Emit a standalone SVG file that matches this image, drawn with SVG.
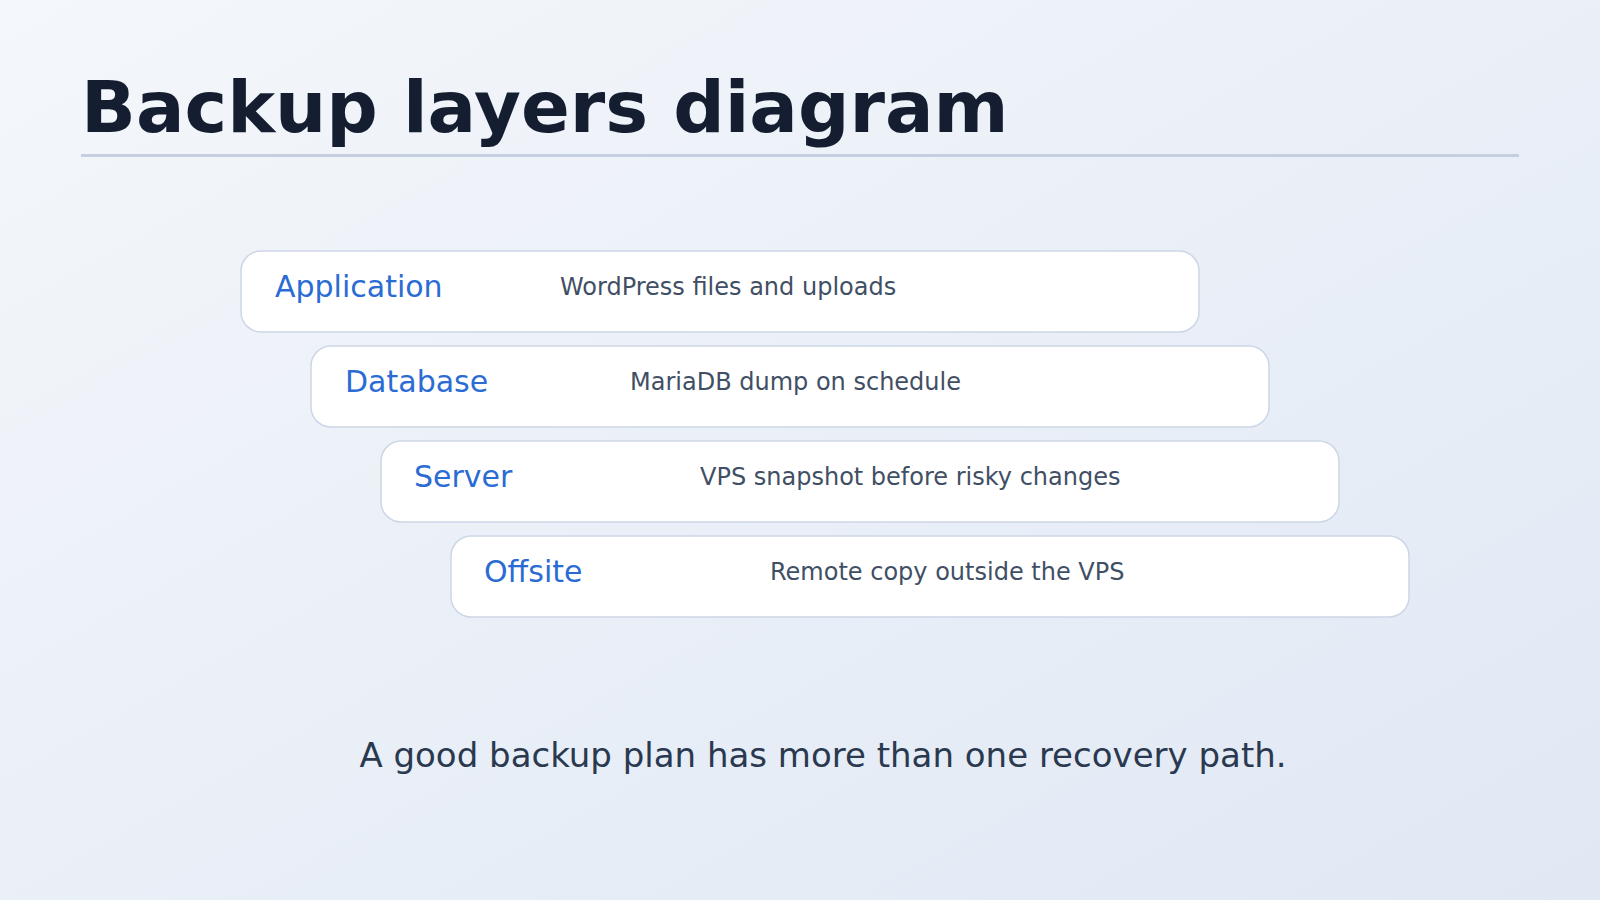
<svg xmlns="http://www.w3.org/2000/svg" width="1600" height="900" viewBox="0 0 1600 900">
  <defs>
    <linearGradient id="bg" x1="0" y1="0" x2="1" y2="1">
      <stop offset="0" stop-color="#f4f7fb"/>
      <stop offset="1" stop-color="#e0e8f4"/>
    </linearGradient>
  </defs>
  <style>
    .title { font-family: "DejaVu Sans", sans-serif; font-weight: bold; font-size: 72px; fill: #141e30; }
    .box { fill: #ffffff; stroke: #cdd6e6; stroke-width: 1.5; }
    .label { font-family: "DejaVu Sans", sans-serif; font-size: 30px; fill: #2b6cd4; }
    .desc { font-family: "DejaVu Sans", sans-serif; font-size: 24px; fill: #414f65; }
    .footer { font-family: "DejaVu Sans", sans-serif; font-size: 34px; fill: #2a3950; text-anchor: middle; }
  </style>
  <rect x="0" y="0" width="1600" height="900" fill="url(#bg)"/>
  <g id="header">
    <text class="title" x="81" y="132">Backup layers diagram</text>
    <rect x="81" y="154" width="1438" height="3" fill="#c4cfe0"/>
  </g>
  <g id="connectors"></g>
  <g id="layer-application">
    <rect class="box" x="241" y="251" width="958" height="81" rx="20"/>
    <text class="label" x="275" y="297">Application</text>
    <text class="desc" x="560" y="295">WordPress files and uploads</text>
  </g>
  <g id="layer-database">
    <rect class="box" x="311" y="346" width="958" height="81" rx="20"/>
    <text class="label" x="345" y="392">Database</text>
    <text class="desc" x="630" y="390">MariaDB dump on schedule</text>
  </g>
  <g id="layer-server">
    <rect class="box" x="381" y="441" width="958" height="81" rx="20"/>
    <text class="label" x="414" y="487">Server</text>
    <text class="desc" x="700" y="485">VPS snapshot before risky changes</text>
  </g>
  <g id="layer-offsite">
    <rect class="box" x="451" y="536" width="958" height="81" rx="20"/>
    <text class="label" x="484" y="582">Offsite</text>
    <text class="desc" x="770" y="580">Remote copy outside the VPS</text>
  </g>
  <g id="footer">
    <text class="footer" x="823" y="767">A good backup plan has more than one recovery path.</text>
  </g>
</svg>
